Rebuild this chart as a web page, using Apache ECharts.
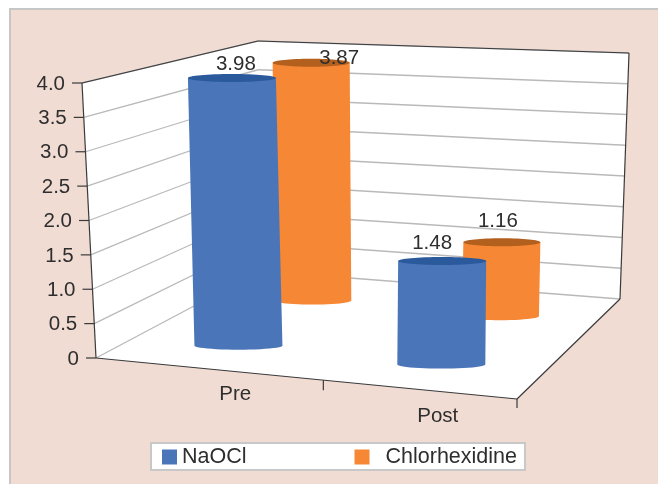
<!DOCTYPE html>
<html>
<head>
<meta charset="utf-8">
<style>
html, body { margin: 0; padding: 0; background: #fff; }
#chart { width: 658px; height: 484px; }
</style>
<script src="https://cdn.jsdelivr.net/npm/echarts@6/dist/echarts.min.js"></script>
</head>
<body>
<div id="chart"></div>
<script>
let categories = ['Pre', 'Post'];
let naocl = [3.98, 1.48];
let chlorhexidine = [3.87, 1.16];
let tickValues = [0, 0.5, 1, 1.5, 2, 2.5, 3, 3.5, 4];
let tickLabels = ['0', '0.5', '1.0', '1.5', '2.0', '2.5', '3.0', '3.5', '4.0'];

// hidden grid, only used as the scale for the fake 3d box
let grid = { left: 100, top: 50, width: 400, height: 300 };
let textFont = '"Liberation Sans", Arial, sans-serif';
let textColor = '#2e2e2e';
let lineColor = '#3a3a3a';
let gridColor = '#b9b9b9';

// corners of the box on screen: [bottom, top] for each floor corner
let box = {
    frontLeft: [[96, 358], [82, 83]],
    frontRight: [[517, 399], [523, 101]],
    backLeft: [[260, 271], [258, 41]],
    backRight: [[620, 299], [629, 53]]
};

let mix = (a, b, t) => [a[0] + (b[0] - a[0]) * t, a[1] + (b[1] - a[1]) * t];

// u: along the categories, d: depth, h: height, all 0..1
let project = (u, d, h) => {
    let front = mix(mix(box.frontLeft[0], box.frontRight[0], u), mix(box.frontLeft[1], box.frontRight[1], u), h);
    let back = mix(mix(box.backLeft[0], box.backRight[0], u), mix(box.backLeft[1], box.backRight[1], u), h);
    return mix(front, back, d);
};

let toBox = (api, cat, value) => {
    let p = api.coord([cat, value]);
    return {
        u: (p[0] - grid.left) / grid.width,
        h: (grid.top + grid.height - p[1]) / grid.height
    };
};

let line = (a, b, color, width) => ({
    type: 'line',
    shape: { x1: a[0], y1: a[1], x2: b[0], y2: b[1] },
    style: { stroke: color, lineWidth: width }
});

let label = (text, x, y, align) => ({
    type: 'text',
    style: {
        text: text, x: x, y: y,
        align: align || 'center', verticalAlign: 'middle',
        font: '20.5px ' + textFont, fill: textColor
    }
});

let wall = points => ({
    type: 'polygon',
    shape: { points: points },
    style: { fill: '#fff' }
});

let renderWalls = () => ({
    type: 'group',
    children: [
        wall([project(0, 0, 0), project(0, 0, 1), project(0, 1, 1), project(0, 1, 0)]),
        wall([project(0, 1, 0), project(0, 1, 1), project(1, 1, 1), project(1, 1, 0)]),
        wall([project(0, 0, 0), project(1, 0, 0), project(1, 1, 0), project(0, 1, 0)])
    ]
});

let renderTick = (params, api) => {
    let h = toBox(api, 0, api.value(1)).h;
    let a = project(0, 0, h), b = project(0, 1, h), c = project(1, 1, h);
    return {
        type: 'group',
        children: [
            line(a, b, gridColor, 1.3),
            line(b, c, gridColor, 1.3),
            line([a[0] - 10, a[1]], a, lineColor, 1.2),
            label(tickLabels[params.dataIndex], a[0] - 17, a[1] + 1, 'right')
        ]
    };
};

let renderFrame = () => {
    let fl0 = project(0, 0, 0), fl1 = project(0, 0, 1), bl1 = project(0, 1, 1);
    let br1 = project(1, 1, 1), br0 = project(1, 1, 0), fr0 = project(1, 0, 0);
    let mid = project(0.54, 0, 0);
    return {
        type: 'group',
        children: [
            line(fl0, fl1, lineColor, 1.2),
            line(fl1, bl1, lineColor, 1.2),
            line(bl1, br1, lineColor, 1.2),
            line(br1, br0, lineColor, 1.2),
            line(br0, fr0, lineColor, 1.2),
            line(fr0, fl0, lineColor, 1.2),
            line(mid, [mid[0], mid[1] + 10], lineColor, 1.2),
            line(fr0, [fr0[0], fr0[1] + 9], lineColor, 1.2)
        ]
    };
};

let categoryNudge = [[34, 26], [26, 28]];

let renderCategory = (params, api) => {
    let i = params.dataIndex;
    let p = project(toBox(api, i, 0).u, 0, 0);
    return label(categories[i], p[0] + categoryNudge[i][0], p[1] + categoryNudge[i][1]);
};

// depth row, half width, colours and label nudges of each cylinder series
let renderCylinder = (depth, rx, bodyColor, topColor, nudges) => (params, api) => {
    let i = api.value(0);
    let pos = toBox(api, i, api.value(1));
    let base = project(pos.u, depth, 0);
    let top = project(pos.u, depth, pos.h);
    let ry = 4;
    let points = [[top[0] - rx, top[1]], [top[0] + rx, top[1]]];
    for (let s = 0; s <= 24; s++) {
        let a = Math.PI * s / 24;
        points.push([base[0] + rx * Math.cos(a), base[1] + ry * Math.sin(a)]);
    }
    return {
        type: 'group',
        children: [
            { type: 'polygon', shape: { points: points }, style: { fill: bodyColor } },
            { type: 'ellipse', shape: { cx: top[0], cy: top[1], rx: rx, ry: ry }, style: { fill: topColor } },
            label(api.value(1).toFixed(2), top[0] + nudges[i][0], top[1] + nudges[i][1])
        ]
    };
};

let option = {
    animation: false,
    tooltip: { show: false },
    graphic: [{
        type: 'rect',
        silent: true,
        z: 0,
        shape: { x: 10, y: 9, width: 680, height: 500 },
        style: { fill: '#f1dcd4', stroke: '#c6c6c6', lineWidth: 2 }
    }],
    grid: grid,
    xAxis: { type: 'category', data: categories, show: false },
    yAxis: { type: 'value', min: 0, max: 4, interval: 0.5, show: false },
    legend: {
        left: 151,
        top: 443,
        orient: 'horizontal',
        data: [
            { name: 'NaOCl' },
            { name: 'Chlorhexidine', textStyle: { padding: [0, 0, 0, 11] } }
        ],
        icon: 'rect',
        itemWidth: 15,
        itemHeight: 15,
        itemGap: 108,
        padding: [3, 8, 2, 11],
        backgroundColor: '#fff',
        borderColor: '#c8c8c8',
        borderWidth: 2,
        selectedMode: false,
        textStyle: { fontFamily: textFont, fontSize: 21.5, color: textColor }
    },
    series: [
        { type: 'custom', z: 1, silent: true, renderItem: renderWalls, data: [[0, 0]] },
        { type: 'custom', z: 2, silent: true, renderItem: renderTick, data: tickValues.map(v => [0, v]) },
        { type: 'custom', z: 3, silent: true, renderItem: renderFrame, data: [[0, 0]] },
        { type: 'custom', z: 3, silent: true, renderItem: renderCategory, data: categories.map((c, i) => [i, 0]) },
        {
            name: 'Chlorhexidine',
            type: 'custom',
            z: 4,
            silent: true,
            itemStyle: { color: '#f68735' },
            renderItem: renderCylinder(0.75, 38.5, '#f68735', '#b35f1d', [[28, -5], [-4, -21]]),
            data: chlorhexidine.map((v, i) => [i, v])
        },
        {
            name: 'NaOCl',
            type: 'custom',
            z: 5,
            silent: true,
            itemStyle: { color: '#4b75b9' },
            renderItem: renderCylinder(0.25, 44, '#4b75b9', '#2a5a9c', [[4, -14], [-10, -18]]),
            data: naocl.map((v, i) => [i, v])
        }
    ]
};

let myChart = echarts.init(document.getElementById('chart'), null, { renderer: 'canvas' });
myChart.setOption(option);
</script>
</body>
</html>
